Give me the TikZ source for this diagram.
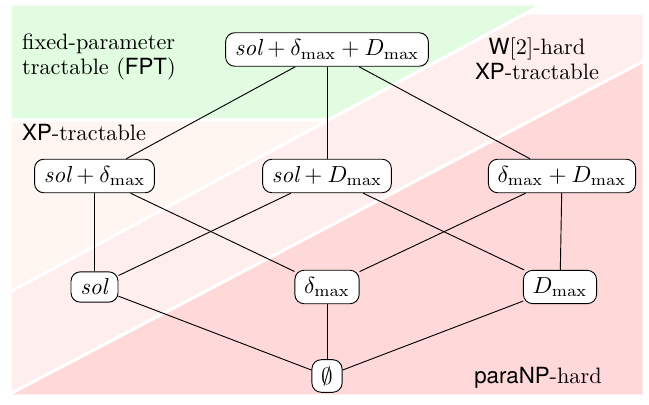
\documentclass[tikz,border=0pt]{standalone}
\usepackage[no-math]{fontspec}
\setsansfont{TeX Gyre Heros}
\usetikzlibrary{backgrounds}
\definecolor{fptgreen}{RGB}{225,252,225}
\definecolor{xporange}{RGB}{255,246,242}
\definecolor{wtwopink}{RGB}{255,238,238}
\definecolor{paranppink}{RGB}{255,217,217}

\begin{document}
\begin{tikzpicture}[x=0.431pt,y=-0.431pt,
    param/.style={draw,rounded corners=4pt,fill=white,inner ysep=3pt,inner xsep=4pt},
    region/.style={draw=white,line width=1.3pt},
    classlabel/.style={font=\fontsize{9.6pt}{10.8pt}\selectfont}]
  \useasboundingbox (0,0) rectangle (649,405);
   % complexity regions
   \filldraw[region,fill=fptgreen] (10,4) -- (543,4) -- (328,120) -- (10,120) -- cycle;
   \filldraw[region,fill=xporange] (10,120) -- (328,120) -- (10,292) -- cycle;
   \filldraw[region,fill=wtwopink] (10,292) -- (527,13) -- (644,13) -- (644,61) -- (10,394) -- cycle;
   \filldraw[region,fill=paranppink] (644,61) -- (644,396) -- (10,396) -- (10,394) -- cycle;

   \draw (14,57) node[classlabel,anchor=west,align=left] (fpt) {fixed-parameter\\tractable (\textsf{FPT})};
   \draw (14,133) node[classlabel,anchor=west] (xp) {\textsf{XP}-tractable};
   \draw (537,59) node[classlabel,align=center] (wtwo) {\textsf{W}[2]-hard\\\textsf{XP}-tractable};
   \draw (538,378) node[classlabel] (paranp) {\textsf{paraNP}-hard};

   \draw (327,49.5) node[param] (all) {$\textit{sol} + \delta_{\max} + D_{\max}$};
   \draw (94.5,176) node[param] (soldelta) {$\textit{sol} + \delta_{\max}$};
   \draw (327,176) node[param] (solD) {$\textit{sol} + D_{\max}$};
   \draw (562,176) node[param] (deltaD) {$\delta_{\max} + D_{\max}$};
   \draw (94.5,287) node[param] (sol) {\textit{sol}};
   \draw (327,287) node[param] (delta) {$\delta_{\max}$};
   \draw (560,287) node[param] (D) {$D_{\max}$};
   \draw (327,376) node[param] (empty) {$\emptyset$};

       \path[-] (all) edge (soldelta);
       \path[-] (all) edge (solD);
       \path[-] (all) edge (deltaD);
       \path[-] (soldelta) edge (sol);
       \path[-] (soldelta) edge (delta);
       \path[-] (solD) edge (sol);
       \path[-] (solD) edge (D);
       \path[-] (deltaD) edge (delta);
       \path[-] (deltaD) edge (D);
       \path[-] (sol) edge (empty);
       \path[-] (delta) edge (empty);
       \path[-] (D) edge (empty);

\end{tikzpicture}
\end{document}
